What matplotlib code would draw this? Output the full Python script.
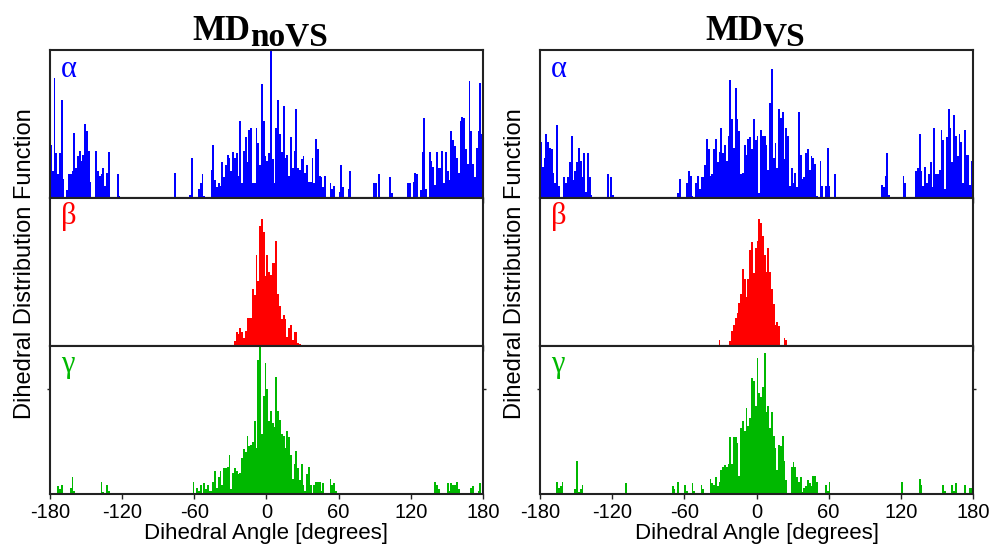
import numpy as np
import matplotlib
matplotlib.use("Agg")
import matplotlib.pyplot as plt

plt.rcParams['font.family'] = ['Liberation Sans', 'DejaVu Sans']
plt.rcParams['axes.unicode_minus'] = False

# 1.5 degree bins from -180 to 180 (240 bins)
bin_edges = np.linspace(-180, 180, 241)
x_ticks = [-180, -120, -60, 0, 60, 120, 180]

# bar heights, % of panel height, one value per bin
novs_alpha = [
    36, 18, 81, 30, 16, 30, 66, 13, 0, 5, 16, 16, 18, 44, 20, 28, 32, 25, 29, 50,
    45, 32, 11, 0, 0, 32, 18, 15, 16, 20, 8, 17, 31, 0, 0, 0, 0, 16, 1, 0,
    0, 0, 0, 0, 0, 0, 0, 0, 0, 0, 0, 0, 0, 0, 0, 0, 0, 0, 0, 0,
    0, 0, 0, 0, 0, 0, 0, 0, 0, 17, 0, 0, 0, 0, 0, 0, 0, 2, 27, 0,
    0, 0, 6, 10, 16, 1, 0, 0, 0, 19, 36, 12, 7, 10, 8, 24, 14, 22, 29, 27,
    18, 31, 27, 30, 15, 52, 10, 32, 41, 24, 46, 47, 10, 10, 47, 37, 22, 77, 52, 28,
    25, 30, 100, 26, 10, 47, 66, 43, 31, 62, 27, 29, 15, 41, 20, 32, 60, 20, 19, 26,
    28, 17, 22, 11, 11, 27, 10, 40, 33, 15, 14, 7, 15, 0, 0, 10, 6, 8, 0, 0,
    4, 22, 7, 0, 0, 6, 18, 0, 0, 0, 0, 0, 0, 0, 0, 0, 0, 0, 0, 10,
    10, 0, 16, 0, 0, 0, 0, 0, 14, 3, 0, 0, 0, 0, 0, 0, 0, 0, 10, 10,
    0, 11, 17, 16, 0, 5, 31, 54, 6, 0, 31, 25, 21, 9, 31, 20, 20, 32, 10, 31,
    18, 12, 45, 39, 35, 27, 17, 52, 55, 54, 33, 23, 79, 45, 23, 14, 34, 45, 78, 43,
]
novs_beta = [
    0, 0, 0, 0, 0, 0, 0, 0, 0, 0, 0, 0, 0, 0, 0, 0, 0, 0, 0, 0,
    0, 0, 0, 0, 0, 0, 0, 0, 0, 0, 0, 0, 0, 0, 0, 0, 0, 0, 0, 0,
    0, 0, 0, 0, 0, 0, 0, 0, 0, 0, 0, 0, 0, 0, 0, 0, 0, 0, 0, 0,
    0, 0, 0, 0, 0, 0, 0, 0, 0, 0, 0, 0, 0, 0, 0, 0, 0, 0, 0, 0,
    0, 0, 0, 0, 0, 0, 0, 0, 0, 0, 0, 0, 0, 0, 0, 0, 0, 0, 0, 0,
    0, 0, 3, 9, 8, 12, 9, 5, 10, 19, 19, 19, 38, 34, 61, 44, 81, 86, 77, 47,
    61, 50, 48, 56, 56, 71, 35, 27, 18, 21, 18, 6, 12, 14, 4, 9, 9, 2, 1, 0,
    0, 0, 0, 0, 0, 0, 0, 0, 0, 0, 0, 0, 0, 0, 0, 0, 0, 0, 0, 0,
    0, 0, 0, 0, 0, 0, 0, 0, 0, 0, 0, 0, 0, 0, 0, 0, 0, 0, 0, 0,
    0, 0, 0, 0, 0, 0, 0, 0, 0, 0, 0, 0, 0, 0, 0, 0, 0, 0, 0, 0,
    0, 0, 0, 0, 0, 0, 0, 0, 0, 0, 0, 0, 0, 0, 0, 0, 0, 0, 0, 0,
    0, 0, 0, 0, 0, 0, 0, 0, 0, 0, 0, 0, 0, 0, 0, 0, 0, 0, 0, 0,
]
novs_gamma = [
    0, 0, 0, 0, 5, 3, 6, 0, 0, 0, 0, 4, 11, 2, 0, 0, 0, 0, 0, 0,
    0, 0, 0, 0, 0, 0, 0, 0, 8, 1, 0, 6, 2, 0, 0, 0, 0, 0, 0, 0,
    0, 0, 0, 0, 0, 0, 0, 0, 0, 0, 0, 0, 0, 0, 0, 0, 0, 0, 0, 0,
    0, 0, 0, 0, 0, 0, 0, 0, 0, 0, 0, 0, 0, 0, 0, 0, 0, 0, 0, 8,
    0, 4, 2, 6, 0, 7, 3, 6, 2, 2, 8, 15, 4, 11, 15, 6, 17, 17, 18, 26,
    3, 14, 17, 15, 13, 14, 24, 30, 28, 39, 32, 33, 35, 49, 31, 90, 100, 40, 66, 88,
    71, 49, 56, 48, 45, 79, 56, 50, 40, 39, 31, 42, 38, 26, 10, 20, 29, 17, 9, 20,
    6, 2, 13, 18, 6, 0, 6, 8, 8, 8, 2, 7, 0, 0, 0, 10, 6, 7, 2, 0,
    0, 0, 0, 0, 0, 0, 0, 0, 0, 0, 0, 0, 0, 0, 0, 0, 0, 0, 0, 0,
    0, 0, 0, 0, 0, 0, 0, 0, 0, 0, 0, 0, 0, 0, 0, 0, 0, 0, 0, 0,
    0, 0, 0, 0, 0, 0, 0, 0, 0, 0, 0, 0, 0, 8, 6, 3, 0, 0, 0, 0,
    7, 2, 7, 6, 6, 8, 3, 0, 0, 0, 0, 0, 0, 4, 5, 0, 0, 2, 7, 0,
]

vs_alpha = [
    38, 21, 27, 43, 38, 34, 33, 17, 10, 49, 8, 0, 0, 14, 10, 14, 24, 42, 12, 18,
    24, 34, 25, 14, 30, 4, 30, 14, 2, 0, 0, 0, 0, 0, 0, 0, 0, 16, 0, 14,
    2, 0, 0, 0, 0, 0, 0, 0, 0, 0, 0, 0, 0, 0, 0, 0, 0, 0, 0, 0,
    0, 0, 0, 0, 0, 0, 0, 0, 0, 0, 0, 0, 0, 0, 0, 0, 3, 13, 0, 0,
    0, 10, 18, 15, 1, 0, 10, 15, 6, 14, 14, 22, 40, 33, 15, 16, 33, 40, 24, 31,
    47, 30, 36, 25, 42, 80, 53, 34, 74, 53, 45, 16, 17, 36, 29, 40, 41, 33, 53, 39,
    42, 3, 46, 42, 42, 36, 19, 64, 87, 27, 37, 20, 60, 54, 58, 26, 47, 42, 8, 20,
    10, 17, 7, 58, 29, 13, 14, 30, 33, 19, 28, 27, 23, 1, 0, 25, 8, 0, 8, 34,
    8, 0, 0, 16, 0, 0, 0, 0, 0, 0, 0, 0, 0, 0, 0, 0, 0, 0, 0, 0,
    0, 0, 0, 0, 0, 0, 0, 0, 0, 9, 7, 15, 30, 2, 0, 0, 0, 0, 0, 0,
    0, 15, 10, 0, 0, 0, 0, 0, 18, 20, 43, 18, 8, 21, 10, 16, 24, 7, 47, 16,
    16, 19, 46, 39, 6, 41, 60, 47, 24, 56, 42, 28, 43, 38, 10, 46, 29, 29, 9, 25,
]
vs_beta = [
    0, 0, 0, 0, 0, 0, 0, 0, 0, 0, 0, 0, 0, 0, 0, 0, 0, 0, 0, 0,
    0, 0, 0, 0, 0, 0, 0, 0, 0, 0, 0, 0, 0, 0, 0, 0, 0, 0, 0, 0,
    0, 0, 0, 0, 0, 0, 0, 0, 0, 0, 0, 0, 0, 0, 0, 0, 0, 0, 0, 0,
    0, 0, 0, 0, 0, 0, 0, 0, 0, 0, 0, 0, 0, 0, 0, 0, 0, 0, 0, 0,
    0, 0, 0, 0, 0, 0, 0, 0, 0, 0, 0, 0, 0, 0, 0, 0, 0, 0, 0, 4,
    0, 0, 0, 0, 0, 3, 10, 14, 19, 22, 29, 35, 52, 45, 33, 45, 65, 70, 49, 66,
    71, 86, 83, 74, 61, 50, 66, 50, 38, 28, 14, 16, 13, 0, 0, 5, 4, 0, 0, 0,
    0, 0, 0, 0, 0, 0, 0, 0, 0, 0, 0, 0, 0, 0, 0, 0, 0, 0, 0, 0,
    0, 0, 0, 0, 0, 0, 0, 0, 0, 0, 0, 0, 0, 0, 0, 0, 0, 0, 0, 0,
    0, 0, 0, 0, 0, 0, 0, 0, 0, 0, 0, 0, 0, 0, 0, 0, 0, 0, 0, 0,
    0, 0, 0, 0, 0, 0, 0, 0, 0, 0, 0, 0, 0, 0, 0, 0, 0, 0, 0, 0,
    0, 0, 0, 0, 0, 0, 0, 0, 0, 0, 0, 0, 0, 0, 0, 0, 0, 0, 0, 0,
]
vs_gamma = [
    0, 0, 0, 0, 0, 0, 0, 0, 0, 8, 4, 5, 8, 0, 0, 0, 0, 0, 0, 3,
    22, 1, 3, 6, 0, 0, 0, 0, 0, 0, 0, 0, 0, 0, 0, 0, 0, 0, 0, 0,
    0, 0, 0, 0, 0, 0, 0, 7, 0, 0, 0, 0, 0, 0, 0, 0, 0, 0, 0, 0,
    0, 0, 0, 0, 0, 0, 0, 0, 0, 0, 0, 0, 0, 5, 3, 0, 8, 0, 0, 0,
    6, 2, 0, 0, 7, 2, 0, 0, 0, 6, 3, 0, 0, 0, 10, 7, 6, 11, 5, 8,
    16, 18, 19, 18, 20, 38, 20, 38, 38, 34, 12, 44, 49, 42, 58, 46, 51, 78, 76, 59,
    92, 68, 65, 72, 95, 55, 59, 44, 55, 39, 31, 16, 33, 32, 39, 22, 9, 0, 0, 18,
    21, 18, 11, 8, 11, 1, 4, 5, 9, 7, 5, 12, 12, 8, 0, 0, 0, 0, 6, 2,
    8, 0, 0, 0, 0, 0, 0, 0, 0, 0, 0, 0, 0, 0, 0, 0, 0, 0, 0, 0,
    0, 0, 0, 0, 0, 0, 0, 0, 0, 0, 0, 0, 0, 0, 0, 0, 0, 0, 0, 0,
    8, 0, 0, 0, 0, 0, 0, 0, 0, 0, 10, 6, 0, 0, 0, 0, 0, 0, 0, 0,
    0, 0, 0, 6, 2, 0, 0, 0, 6, 2, 7, 0, 0, 0, 0, 6, 0, 0, 4, 4,
]

# title = main part + subscript part
columns = [
    ('MD', 'noVS', [novs_alpha, novs_beta, novs_gamma]),
    ('MD', 'VS', [vs_alpha, vs_beta, vs_gamma]),
]
greek = ['α', 'β', 'γ']
colors = ['#0000ff', '#ff0000', '#00b800']
spine_color = '#222222'
serif = ['Liberation Serif', 'DejaVu Serif']

fig = plt.figure(figsize=(9.96, 5.5), dpi=100)

col_left = [0.0502, 0.5422]
col_width = 0.4347
y_bottom = 0.1027
panel_h = (0.9091 - 0.1027) / 3
# x of the join between "MD" and its subscript, figure fraction
title_join = [250 / 996, 763 / 996]

for c, (main, sub, series) in enumerate(columns):
    axes = []
    for r in range(3):
        ax = fig.add_axes([col_left[c], y_bottom + (2 - r) * panel_h, col_width, panel_h])
        vals = np.array(series[r], dtype=float) / 100.0
        ax.stairs(vals, bin_edges, fill=True, color=colors[r], linewidth=0)
        ax.set_xlim(-180, 180)
        ax.set_ylim(0, 1.0)
        ax.set_xticks(x_ticks)
        ax.tick_params(axis='x', direction='out', length=3.5, width=1,
                       color=spine_color, labelsize=14.5, pad=3)
        if r == 2:
            ax.set_yticks([0.71])
            ax.tick_params(axis='y', left=True, right=True, labelleft=False,
                           direction='out', length=2.5, width=1, color=spine_color)
        else:
            ax.set_yticks([])
        if r < 2:
            ax.tick_params(axis='x', labelbottom=False)
        for s in ax.spines.values():
            s.set_color(spine_color)
            s.set_linewidth(1.5)
        ax.text(0.026, 0.82, greek[r], transform=ax.transAxes, color=colors[r],
                fontsize=22, family=serif, va='baseline')
        axes.append(ax)

    fig.text(title_join[c], 1 - 40 / 550, main, ha='right', va='baseline',
             fontsize=25, fontweight='bold', family=serif)
    fig.text(title_join[c], 1 - 46 / 550, sub, ha='left', va='baseline',
             fontsize=24, fontweight='bold', family=serif)
    axes[2].set_xlabel('Dihedral Angle [degrees]', fontsize=16, labelpad=1)
    fig.text(col_left[c] - 0.025, 0.52, 'Dihedral Distribution Function',
             rotation=90, ha='center', va='center', fontsize=17)

fig.savefig('out.png', dpi=100)
